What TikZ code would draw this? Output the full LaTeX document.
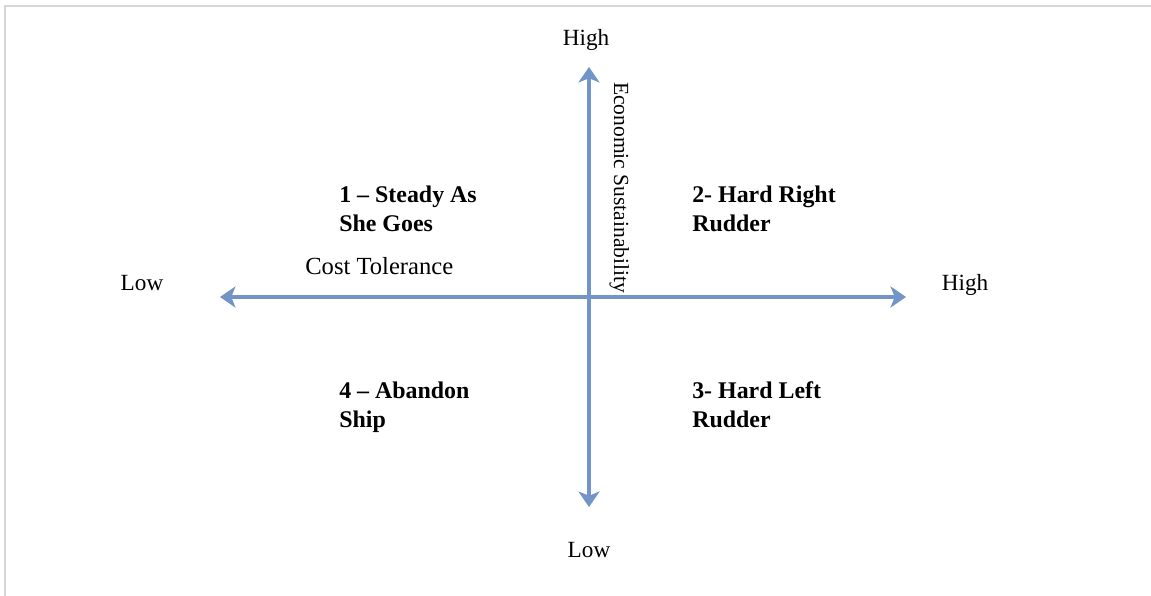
\documentclass[tikz,border=0pt]{standalone}
\usepackage{fontspec}
\setmainfont{Liberation Serif}
\usetikzlibrary{arrows.meta}

\definecolor{axisblue}{RGB}{115,148,198}
\definecolor{framegray}{RGB}{215,215,215}

\tikzset{
    axisline/.style={line width=2.8pt, axisblue, {Stealth[length=11pt, width=15pt, inset=3pt]}-{Stealth[length=11pt, width=15pt, inset=3pt]}},
    axislabel/.style={inner sep=0pt, font=\fontsize{16.5}{19}\selectfont},
    quadlabel/.style={inner sep=0pt, anchor=base west, align=left, font=\fontsize{17}{21}\selectfont\bfseries}
}

\begin{document}
\begin{tikzpicture}[x=0.025cm, y=-0.025cm]
    % Page size and frame
    \useasboundingbox (0,0) rectangle (1151,596);
    \draw[framegray, line width=1.2pt] (5,596) -- (5,6) -- (1151,6);

    % Axis ends
    \coordinate (top) at (589,67);
    \coordinate (bottom) at (589,507);
    \coordinate (left) at (220,297);
    \coordinate (right) at (906,297);

    % Axes
    \draw[axisline] (bottom) -- (top);
    \draw[axisline] (left) -- (right);

    % End labels
    \node[axislabel, anchor=base] (hightop) at (586,46) {High};
    \node[axislabel, anchor=base] (lowbottom) at (589,557) {Low};
    \node[axislabel, anchor=base] (lowleft) at (142,291) {Low};
    \node[axislabel, anchor=base] (highright) at (965,291) {High};

    % Axis titles
    \node[axislabel, anchor=base west, font=\fontsize{17.5}{20}\selectfont] (costlabel) at (305,275) {Cost Tolerance};
    \node[axislabel, rotate=-90, anchor=base west, font=\fontsize{15.3}{18}\selectfont] (econlabel) at (614,82) {Economic Sustainability};

    % Quadrants (placed at the baseline of the last line)
    \node[quadlabel] (quadone) at (339,232) {1 -- Steady As\\She Goes};
    \node[quadlabel] (quadtwo) at (692,232) {2- Hard Right\\Rudder};
    \node[quadlabel] (quadthree) at (692,428) {3- Hard Left\\Rudder};
    \node[quadlabel] (quadfour) at (339,428) {4 -- Abandon\\Ship};
\end{tikzpicture}
\end{document}
